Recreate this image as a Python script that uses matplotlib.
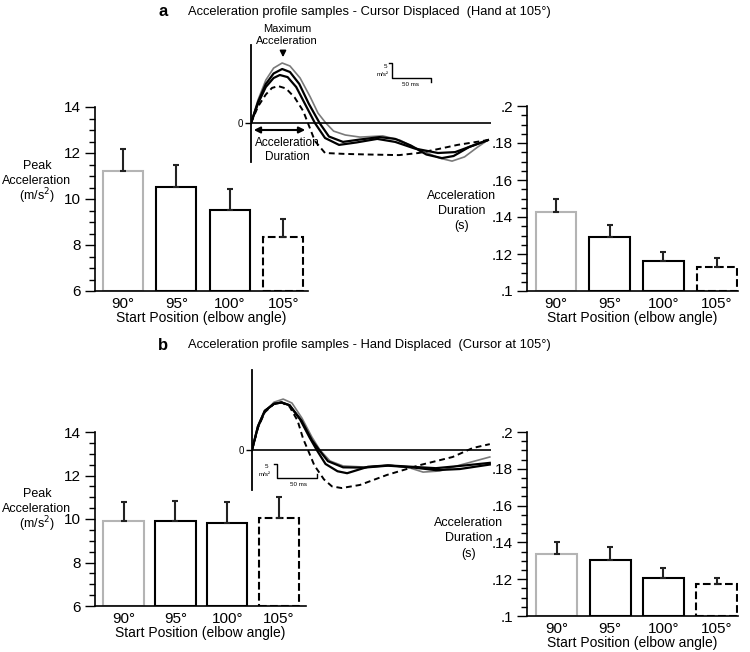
import numpy as np
import matplotlib
matplotlib.use("Agg")
import matplotlib.pyplot as plt
from matplotlib.ticker import MultipleLocator

plt.rcParams['font.family'] = ['Liberation Sans', 'DejaVu Sans']

W, H = 750, 652

# ---- data ----
positions = ['90°', '95°', '100°', '105°']

peak_a = [11.2, 10.52, 9.52, 8.35]
peak_a_err = [0.97, 0.96, 0.91, 0.78]
dur_a = [0.1427, 0.1292, 0.1162, 0.113]
dur_a_err = [0.0073, 0.0065, 0.0048, 0.005]

peak_b = [9.9, 9.9, 9.83, 10.04]
peak_b_err = [0.87, 0.91, 0.94, 0.99]
dur_b = [0.1337, 0.1304, 0.1207, 0.1174]
dur_b_err = [0.0063, 0.0071, 0.0053, 0.0033]

peak_ticks = [6, 8, 10, 12, 14]
dur_ticks = [0.1, 0.12, 0.14, 0.16, 0.18, 0.2]
dur_ticklabels = ['.1', '.12', '.14', '.16', '.18', '.2']

peak_label = ['Peak', 'Acceleration', '(m/s$^2$)']
dur_label = ['Acceleration', 'Duration', '(s)']

# acceleration profiles (ms, m/s^2)
a_gray_t = [0, 9, 19, 29, 40, 50, 63, 76, 86, 96, 106, 121, 140, 169, 191, 217, 242, 258, 274, 291, 304]
a_gray_y = [0, 7.7, 14.3, 18.3, 20, 19, 15, 8.7, 3.3, 0, -2.7, -4, -4.7, -4.3, -5.7, -9, -11.7, -12.7, -11.3, -8, -5.7]
a_blk1_t = [0, 9, 19, 29, 40, 50, 62, 74, 88, 100, 118, 140, 165, 185, 205, 225, 245, 260, 280, 304]
a_blk1_y = [0, 7, 13, 16.5, 18, 17, 13, 6.5, 0, -4.5, -6.3, -5.5, -4.7, -5.3, -7.5, -10.5, -11.7, -11, -8, -5.7]
a_blk2_t = [0, 9, 19, 29, 37, 47, 58, 70, 82, 95, 113, 135, 162, 185, 210, 240, 262, 285, 304]
a_blk2_y = [0, 6.5, 12, 15, 16, 15.3, 12, 6, 0, -5, -7.3, -6.5, -5.3, -6.3, -8.5, -10, -9.7, -7.5, -5.7]
a_dash_t = [0, 9, 19, 27, 35, 45, 56, 67, 73, 82, 95, 120, 150, 190, 215, 240, 265, 304]
a_dash_y = [0, 5.5, 9.5, 11.7, 12.3, 11.5, 8.5, 4, 0, -6, -10, -10.3, -10.5, -10.7, -10, -8.7, -7.3, -5.7]

b_gray_t = [0, 7.5, 16, 27.5, 39, 50, 62.5, 75, 85, 97.5, 114, 141, 172.5, 197.5, 214, 235, 260, 297.5]
b_gray_y = [0, 7.9, 13.6, 17.1, 18.2, 16.8, 11.4, 4.6, 0, -3.9, -5.7, -6.1, -5.4, -6.4, -7.9, -7.5, -5.4, -2.5]
b_blk1_t = [0, 7.5, 16, 27.5, 37, 47, 60, 72, 81, 92, 107, 119, 145, 170, 200, 230, 260, 297.5]
b_blk1_y = [0, 8.5, 14, 16.5, 17, 16, 11, 4.5, 0, -5, -7.6, -8.3, -6, -5.5, -6, -6.5, -5.7, -4.6]
b_blk2_t = [0, 7.5, 16, 27.5, 37, 47, 62, 75, 84, 95, 114, 140, 170, 200, 230, 260, 297.5]
b_blk2_y = [0, 8.5, 14, 16.5, 17, 16, 10.5, 3.5, 0, -4, -6.2, -6.3, -5.6, -6.2, -7.2, -6.8, -5.2]
b_dash_t = [0, 7.5, 16, 27.5, 37, 47, 57, 64, 70, 78, 90, 100, 112, 135, 169, 210, 251, 276, 297.5]
b_dash_y = [0, 8, 13.5, 16.5, 17, 15.5, 10.5, 4, 0, -5.5, -10.5, -13, -13.6, -12.5, -8.9, -5.4, -2.5, 0.7, 2.1]

GRAY = '#b4b4b4'
edge_colors = [GRAY, 'black', 'black', 'black']
edge_styles = ['-', '-', '-', '--']


def fx(x):
    return x / W


def fy(y):
    return 1 - y / H


def axes_px(fig, left, top, right, bottom):
    return fig.add_axes([fx(left), fy(bottom), (right - left) / W, (bottom - top) / H])


def bar_panel(ax, vals, errs, ylim, ticks, ticklabels, minor, xlim, width, ylabel, lab_x, lab_ys):
    x = np.arange(len(vals))
    for i in range(len(vals)):
        ax.bar(x[i], vals[i] - ylim[0], bottom=ylim[0], width=width, facecolor='white',
               edgecolor=edge_colors[i], linestyle=edge_styles[i], linewidth=1.5, zorder=2)
        ax.errorbar(x[i], vals[i], yerr=[[0], [errs[i]]], fmt='none', ecolor='#222222',
                    elinewidth=1.5, capsize=2.5, capthick=1.5, zorder=3)
    ax.set_ylim(*ylim)
    ax.set_xlim(*xlim)
    ax.set_yticks(ticks)
    ax.set_yticklabels(ticklabels)
    ax.yaxis.set_minor_locator(MultipleLocator(minor))
    ax.set_xticks(x)
    ax.set_xticklabels(positions)
    ax.tick_params(axis='y', which='major', direction='out', length=7, width=1, labelsize=11, pad=3)
    ax.tick_params(axis='y', which='minor', direction='out', length=4, width=1)
    ax.tick_params(axis='x', length=0, labelsize=11, pad=4)
    for s in ['top', 'right']:
        ax.spines[s].set_visible(False)
    for s in ['left', 'bottom']:
        ax.spines[s].set_linewidth(1.2)
    ax.set_xlabel('Start Position (elbow angle)', fontsize=10, labelpad=0)
    for line, ly in zip(ylabel, lab_ys):
        fig.text(fx(lab_x), fy(ly), line, ha='center', va='center', fontsize=9)


def inset(ax, curves, xlim, ylim):
    for t, y, style in curves:
        ax.plot(t, y, **style)
    ax.axhline(0, color='black', lw=1.2)
    ax.set_xlim(*xlim)
    ax.set_ylim(*ylim)
    for s in ['top', 'right', 'bottom']:
        ax.spines[s].set_visible(False)
    ax.spines['left'].set_linewidth(1.3)
    ax.set_xticks([])
    ax.set_yticks([0])
    ax.set_yticklabels(['0'])
    ax.tick_params(axis='y', length=4, width=1, labelsize=7, pad=2)
    ax.patch.set_alpha(0)


fig = plt.figure(figsize=(7.5, 6.52), dpi=100)

# ---- panel a ----
fig.text(fx(163), fy(12), 'a', fontsize=12, fontweight='bold', ha='center', va='center')
fig.text(fx(188), fy(12), 'Acceleration profile samples - Cursor Displaced  (Hand at 105°)',
         fontsize=9.3, ha='left', va='center')

ax1 = axes_px(fig, 95, 107, 308, 291)
bar_panel(ax1, peak_a, peak_a_err, (6, 14), peak_ticks, [str(v) for v in peak_ticks], 0.5,
          (-0.52, 3.46), 0.75, peak_label, 37, (166, 181, 196))

ax2 = axes_px(fig, 527, 106, 738, 291)
bar_panel(ax2, dur_a, dur_a_err, (0.1, 0.2), dur_ticks, dur_ticklabels, 0.005,
          (-0.54, 3.39), 0.76, dur_label, 462, (196, 211, 226))

ax3 = axes_px(fig, 251, 45, 491, 162)
inset(ax3, [
    (a_gray_t, a_gray_y, dict(color='#7a7a7a', lw=1.2)),
    (a_blk1_t, a_blk1_y, dict(color='black', lw=1.6)),
    (a_blk2_t, a_blk2_y, dict(color='black', lw=1.6)),
    (a_dash_t, a_dash_y, dict(color='black', lw=1.4, ls=(0, (3, 2)))),
], (0, 308), (-13, 26))

fig.text(fx(287), fy(35), 'Maximum\nAcceleration', fontsize=8, ha='center', va='center',
         linespacing=1.15)
fig.add_artist(matplotlib.patches.FancyArrowPatch(
    (fx(283), fy(49)), (fx(283), fy(60)), transform=fig.transFigure,
    arrowstyle='-|>', mutation_scale=9, color='black', lw=1.2))
fig.add_artist(matplotlib.patches.FancyArrowPatch(
    (fx(251), fy(130)), (fx(308), fy(130)), transform=fig.transFigure,
    arrowstyle='<|-|>', mutation_scale=9, color='black', lw=1.5))
fig.text(fx(287), fy(150), 'Acceleration\nDuration', fontsize=8.5, ha='center', va='center',
         linespacing=1.2)

# scale bar a
fig.add_artist(plt.Line2D([fx(389), fx(392), fx(392), fx(431), fx(431)],
                          [fy(63), fy(63), fy(78), fy(78), fy(82)], transform=fig.transFigure,
                          color='black', lw=1))
fig.text(fx(385), fy(67), '5', fontsize=4.5, ha='center', va='center')
fig.text(fx(383), fy(75), 'm/s²', fontsize=4.5, ha='center', va='center')
fig.text(fx(410), fy(84), '50 ms', fontsize=4.5, ha='center', va='center')

# ---- panel b ----
fig.text(fx(163), fy(345), 'b', fontsize=12, fontweight='bold', ha='center', va='center')
fig.text(fx(188), fy(345), 'Acceleration profile samples - Hand Displaced  (Cursor at 105°)',
         fontsize=9.3, ha='left', va='center')

ax4 = axes_px(fig, 95, 432, 306, 606)
bar_panel(ax4, peak_b, peak_b_err, (6, 14), peak_ticks, [str(v) for v in peak_ticks], 0.5,
          (-0.55, 3.52), 0.78, peak_label, 37, (494, 509, 524))

ax5 = axes_px(fig, 527, 432, 738, 616)
bar_panel(ax5, dur_b, dur_b_err, (0.1, 0.2), dur_ticks, dur_ticklabels, 0.005,
          (-0.56, 3.40), 0.77, dur_label, 469, (523, 538, 554))

ax6 = axes_px(fig, 252, 370, 491, 490)
inset(ax6, [
    (b_gray_t, b_gray_y, dict(color='#7a7a7a', lw=1.2)),
    (b_blk1_t, b_blk1_y, dict(color='black', lw=1.6)),
    (b_blk2_t, b_blk2_y, dict(color='black', lw=1.6)),
    (b_dash_t, b_dash_y, dict(color='black', lw=1.4, ls=(0, (3, 2)))),
], (0, 299), (-14.3, 28.6))

fig.add_artist(plt.Line2D([fx(274), fx(277), fx(277), fx(317), fx(317)],
                          [fy(464), fy(464), fy(478), fy(478), fy(474)], transform=fig.transFigure,
                          color='black', lw=1))
fig.text(fx(266), fy(466), '5', fontsize=4.5, ha='center', va='center')
fig.text(fx(265), fy(474), 'm/s²', fontsize=4.5, ha='center', va='center')
fig.text(fx(298), fy(484), '50 ms', fontsize=4.5, ha='center', va='center')

fig.savefig('out.png', dpi=100)
